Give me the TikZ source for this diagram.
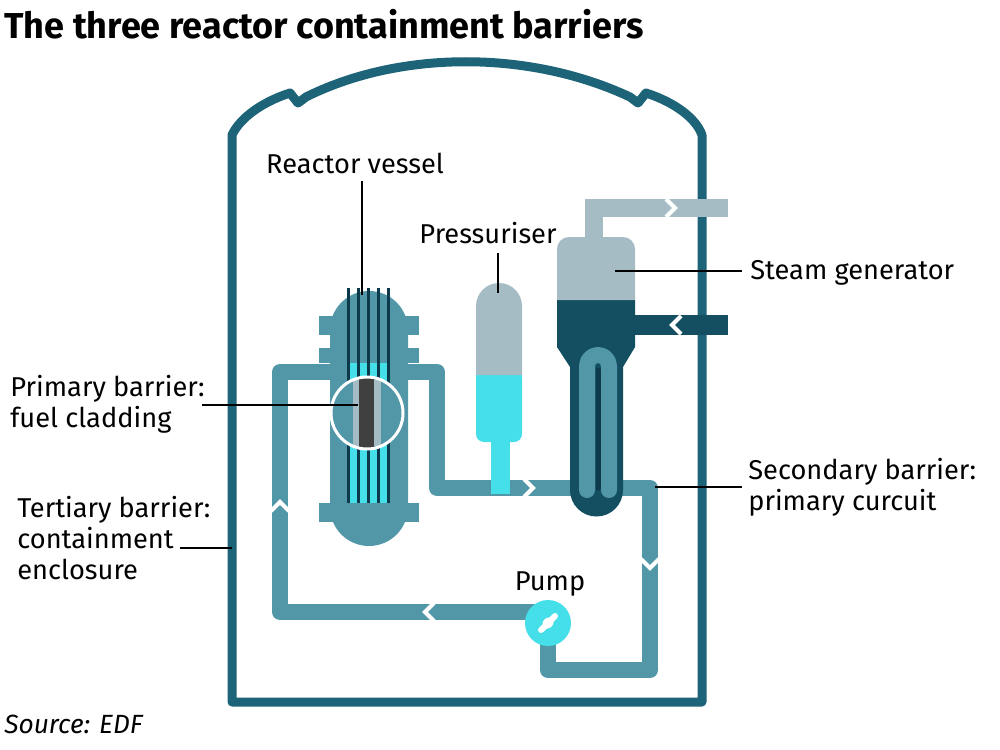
\documentclass[tikz,border=0pt]{standalone}
\usepackage{fontspec}
\setmainfont{Fira Sans}
\begin{document}
\begin{tikzpicture}[x=0.02cm,y=-0.02cm,
  wall/.style={draw=wallc,line width=9*0.02cm,line join=round},
  pipe/.style={draw=pipec,line width=16*0.02cm,line join=round},
  chev/.style={draw=white,line width=4*0.02cm},
  lbl/.style={font=\fontsize{15.5}{17.5}\selectfont,align=left,inner sep=0pt},
  lead/.style={draw=black,line width=1.8*0.02cm}]
\definecolor{wallc}{HTML}{1D6478}
\definecolor{pipec}{HTML}{5197A8}
\definecolor{greyc}{HTML}{A5BCC4}
\definecolor{cyanc}{HTML}{45DFEA}
\definecolor{darkc}{HTML}{134F60}
\definecolor{rodc}{HTML}{0D3A4A}
\useasboundingbox (0,0) rectangle (1000,750);
% title
\node[anchor=west,inner sep=0pt,font=\fontsize{20.5}{24}\selectfont\bfseries] (title) at (4,24) {The three reactor containment barriers};
\node[anchor=west,inner sep=0pt,font=\fontsize{15}{18}\selectfont\itshape] (src) at (4,724) {Source: EDF};
% containment
\draw[wall] (232,702) -- (232,135) .. controls (240,118) and (262,102) .. (290,93) -- (298,103) -- (306,97)
  .. controls (400,50) and (530,50) .. (630,97) -- (638,103) -- (646,93)
  .. controls (674,102) and (696,118) .. (702,135) -- (702,702) -- cycle;
% primary loop pipes
\draw[pipe] (330,372) -- (280,372) -- (280,612) -- (540,612);
\draw[pipe] (408,372) -- (437,372) -- (437,488) -- (585,488);
\draw[pipe] (548,622) -- (548,670) -- (650,670) -- (650,488) -- (612,488);
% secondary pipes
\draw[draw=greyc,line width=18*0.02cm] (594,240) -- (594,208) -- (728,208);
\draw[draw=darkc,line width=20*0.02cm] (630,325) -- (728,325);
% steam generator
\fill[darkc] (557,300) -- (635,300) -- (635,347) -- (623,367) -- (623,490) arc[start angle=0,end angle=180,radius=26.5] -- (570,367) -- (557,347) -- cycle;
\fill[greyc] (557,300) -- (557,249) arc[start angle=180,end angle=270,radius=12] -- (623,237) arc[start angle=270,end angle=360,radius=12] -- (635,300) -- cycle;
\draw[pipe,line cap=round] (587,490) -- (587,366) arc[start angle=180,end angle=360,radius=11] -- (609,490);
\draw[draw=rodc,line width=5*0.02cm,line cap=round] (598,370) -- (598,488);
% pressuriser
\fill[cyanc] (491,430) rectangle (510,494);
\fill[cyanc,rounded corners=8*0.02cm] (476,370) -- (476,442) -- (522,442) -- (522,370) -- cycle;
\fill[cyanc] (476,370) rectangle (522,400);
\fill[greyc] (476,375) -- (476,306) arc[start angle=180,end angle=360,radius=23] -- (522,375) -- cycle;
% reactor vessel
\fill[pipec] (330,330) arc[start angle=180,end angle=360,radius=39] -- (408,507) arc[start angle=0,end angle=180,radius=39] -- cycle;
\fill[pipec] (319,316) rectangle (419,335);
\fill[pipec] (319,348) rectangle (419,363);
\fill[pipec] (319,503) rectangle (419,522);
\fill[cyanc] (349,363) rectangle (389,503);
\foreach \xx in {348,358,368,378,388} \draw[draw=rodc,line width=3*0.02cm] (\xx,288) -- (\xx,503);
\fill[pipec] (367,413) circle[radius=36];
\fill[greyc] (353,380) rectangle (381,446);
\fill[black!75] (359,378) rectangle (374,448);
\begin{scope}\clip (367,413) circle[radius=36];
\fill[pipec] (330,370) rectangle (353,456); \fill[pipec] (381,370) rectangle (405,456);
\end{scope}
\draw[white,line width=3*0.02cm] (367,413) circle[radius=36];
% pump
\node[circle,fill=cyanc,minimum size=46*0.02cm,inner sep=0pt] (pump) at (548,623) {};
\draw[white,line width=6*0.02cm,line cap=round] (541,630) -- (555,616);
\fill[white,rotate around={45:(548,623)}] (548,623) ellipse[x radius=6,y radius=5];
% chevrons
\draw[chev] (524,479) -- (533,488) -- (524,497);
\draw[chev] (271,511) -- (280,502) -- (289,511);
\draw[chev] (641,559) -- (650,568) -- (659,559);
\draw[chev] (434,603) -- (425,612) -- (434,621);
\draw[chev] (666,199) -- (675,208) -- (666,217);
\draw[chev] (681,316) -- (672,325) -- (681,334);
% labels
\node[lbl,anchor=base] (rv) at (355,173) {Reactor vessel};
\draw[lead] (362,181) -- (362,295);
\node[lbl,anchor=base] (pr) at (488,243) {Pressuriser};
\draw[lead] (498,253) -- (498,293);
\node[lbl,anchor=base west] (sg) at (750,279) {Steam generator};
\draw[lead] (615,271) -- (742,271);
\node[lbl,anchor=north west] (pb) at (10,375) {Primary barrier:\\fuel cladding};
\draw[lead] (202,405) -- (358,405);
\node[lbl,anchor=north west] (sb) at (748,458) {Secondary barrier:\\primary curcuit};
\draw[lead] (655,487) -- (742,487);
\node[lbl,anchor=north west] (tb) at (17,496) {Tertiary barrier:\\containment\\enclosure};
\draw[lead] (180,548) -- (232,548);
\node[lbl,anchor=base] (pl) at (550,590) {Pump};
\end{tikzpicture}
\end{document}
